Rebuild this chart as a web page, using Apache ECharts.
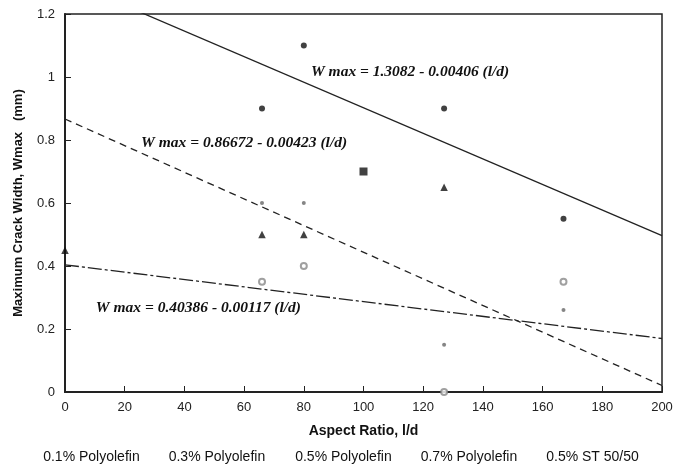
<!DOCTYPE html>
<html style="height: 100%">
<head>
    <meta charset="utf-8">
</head>
<body style="margin: 0">
    <div id="container" style="width: 677px; height: 471px;"></div>
    <script type="text/javascript" src="https://cdn.jsdelivr.net/npm/echarts@6/dist/echarts.min.js"></script>
    <script type="text/javascript">
// series names (legend)
var legendNames = ['0.1% Polyolefin', '0.3% Polyolefin', '0.5% Polyolefin', '0.7% Polyolefin', '0.5% ST 50/50'];

// points [l/d, Wmax]
var pts01 = [[66, 0.9], [80, 1.1], [127, 0.9], [167, 0.55]];
var pts03 = [[0, 0.45], [66, 0.5], [80, 0.5], [127, 0.65]];
var pts05 = [[66, 0.35], [80, 0.4], [127, 0.0], [167, 0.35]];
var pts07 = [[66, 0.6], [80, 0.6], [127, 0.15], [167, 0.26]];
var ptsST = [[100, 0.7]];

// regression lines, ends at l/d = 0 and 200
var fitTop = [[0, 1.3082], [200, 0.4962]];
var fitMid = [[0, 0.86672], [200, 0.02072]];
var fitLow = [[0, 0.40386], [200, 0.16986]];

// equation texts and where they sit (data units)
var eqTexts = ['W max = 1.3082 - 0.00406 (l/d)', 'W max = 0.86672 - 0.00423 (l/d)', 'W max = 0.40386 - 0.00117 (l/d)'];
var eqPos = [[115.6, 1.015], [60, 0.789], [44.7, 0.267]];

var xTicks = [0, 20, 40, 60, 80, 100, 120, 140, 160, 180, 200];
var yTicks = [0, 0.2, 0.4, 0.6, 0.8, 1, 1.2];

var sans = '"Liberation Sans", Arial, sans-serif';
var serif = '"Liberation Serif", "Times New Roman", serif';

function eqMark(i) {
    return {
        symbol: 'circle',
        symbolSize: 0,
        silent: true,
        label: {
            show: true,
            position: 'inside',
            formatter: eqTexts[i],
            color: '#111',
            fontFamily: serif,
            fontWeight: 'bold',
            fontStyle: 'italic',
            fontSize: 15.5
        },
        data: [{ coord: eqPos[i] }]
    };
}

function lineSeries(data, type, i) {
    return {
        type: 'line',
        data: data,
        symbol: 'none',
        silent: true,
        clip: true,
        lineStyle: { color: '#222', width: 1.3, type: type },
        markPoint: eqMark(i),
        z: 1
    };
}

var dom = document.getElementById('container');
var myChart = echarts.init(dom);

var option = {
    animation: false,
    backgroundColor: '#fff',
    grid: {
        left: 65, right: 15, top: 14, bottom: 79,
        show: true, borderColor: '#222', borderWidth: 1.5
    },
    legend: {
        data: legendNames,
        bottom: 2,
        left: 'center',
        icon: 'rect',
        itemWidth: 0,
        itemHeight: 0,
        itemGap: 24,
        selectedMode: false,
        textStyle: { fontFamily: sans, fontSize: 14, color: '#111' }
    },
    xAxis: {
        type: 'value',
        min: 0, max: 200, interval: 20,
        name: 'Aspect Ratio, l/d',
        nameLocation: 'middle',
        nameGap: 32,
        nameTextStyle: { fontFamily: sans, fontWeight: 'bold', fontSize: 14, color: '#111' },
        axisLine: { lineStyle: { color: '#222', width: 2 } },
        axisTick: { inside: true, length: 6, lineStyle: { color: '#222' } },
        axisLabel: {
            fontFamily: sans, fontSize: 13, color: '#222', margin: 9,
            formatter: function (v) { return xTicks.indexOf(v) >= 0 ? String(v) : ''; }
        },
        splitLine: { show: false }
    },
    yAxis: {
        type: 'value',
        min: 0, max: 1.2, interval: 0.2,
        name: 'Maximum Crack Width, Wmax   (mm)',
        nameLocation: 'middle',
        nameGap: 40,
        nameTextStyle: { fontFamily: sans, fontWeight: 'bold', fontSize: 13, color: '#111' },
        axisLine: { lineStyle: { color: '#222', width: 2 } },
        axisTick: { inside: true, length: 6, lineStyle: { color: '#222' } },
        axisLabel: {
            fontFamily: sans, fontSize: 13, color: '#222', margin: 10,
            formatter: function (v) {
                var r = Math.round(v * 10) / 10;
                return yTicks.indexOf(r) >= 0 ? String(r) : '';
            }
        },
        splitLine: { show: false }
    },
    series: [
        {
            name: legendNames[0], type: 'scatter', data: pts01,
            symbol: 'circle', symbolSize: 6,
            itemStyle: { color: '#111' }, z: 3
        },
        {
            name: legendNames[1], type: 'scatter', data: pts03,
            symbol: 'triangle', symbolSize: 7.5,
            itemStyle: { color: '#111' }, z: 3
        },
        {
            name: legendNames[2], type: 'scatter', data: pts05,
            symbol: 'emptyCircle', symbolSize: 6,
            itemStyle: { color: '#888', borderColor: '#888', borderWidth: 0.8 }, z: 3
        },
        {
            name: legendNames[3], type: 'scatter', data: pts07,
            symbol: 'circle', symbolSize: 4,
            itemStyle: { color: '#666' }, z: 3
        },
        {
            name: legendNames[4], type: 'scatter', data: ptsST,
            symbol: 'rect', symbolSize: 8,
            itemStyle: { color: '#111' }, z: 3
        },
        lineSeries(fitTop, 'solid', 0),
        lineSeries(fitMid, [7, 5], 1),
        lineSeries(fitLow, [14, 3, 3, 3], 2)
    ]
};

if (option && typeof option === 'object') {
    myChart.setOption(option, true);
}
    </script>
</body>
</html>
